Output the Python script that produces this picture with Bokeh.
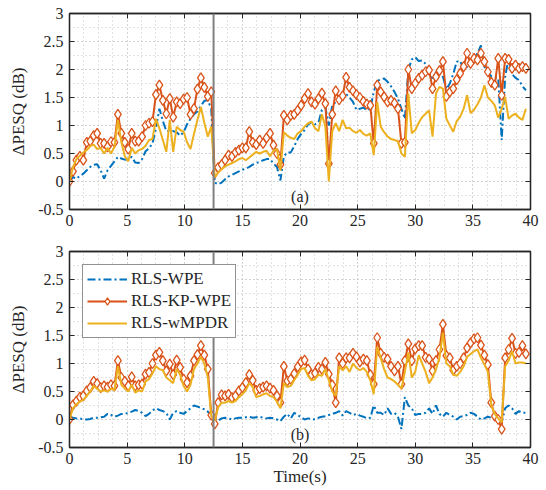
import numpy as np
from bokeh.plotting import figure
from bokeh.models import (Range1d, SingleIntervalTicker, LinearAxis, Span,
                          CustomJSTickFormatter, Legend, LegendItem)
from bokeh.layouts import column
from bokeh.core.properties import value
from bokeh.embed import file_html
from bokeh.resources import INLINE

# ---------------- data ----------------
t = np.round(np.arange(133) * 0.3, 1)
change_time = 12.5

a_wpe = [0.0, 0.08, 0.05, 0.1, 0.14, 0.2, 0.26, 0.3, 0.31, 0.2,
         0.05, 0.2, 0.28, 0.36, 0.44, 0.41, 0.39, 0.4, 0.44, 0.34,
         0.33, 0.4, 0.54, 0.59, 0.68, 0.95, 1.3, 1.08, 0.9, 0.9,
         0.9, 0.88, 0.82, 0.88, 1.02, 1.12, 1.2, 1.25, 1.35, 1.44,
         1.45, 1.3, -0.02, -0.05, -0.02, 0.04, 0.09, 0.12, 0.15, 0.18,
         0.21, 0.23, 0.26, 0.3, 0.33, 0.35, 0.38, 0.4, 0.4, 0.32,
         0.26, 0.02, 0.45, 0.52, 0.52, 0.63, 0.76, 0.85, 0.92, 1.02,
         1.06, 1.02, 1.05, 1.28, 1.33, 1.0, 1.36, 1.42, 1.45, 1.53,
         1.56, 1.5, 1.42, 1.28, 1.3, 1.32, 1.27, 1.3, 1.6, 1.8,
         1.82, 1.84, 1.78, 1.7, 1.6, 1.48, 1.3, 1.12, 2.0, 2.18,
         2.22, 2.15, 2.16, 2.1, 1.95, 1.81, 1.95, 1.96, 1.87, 1.65,
         1.75, 1.92, 2.14, 2.15, 2.0, 2.05, 2.12, 2.2, 2.29, 2.43,
         2.05, 1.95, 1.88, 1.86, 1.85, 0.74, 1.87, 2.2, 1.92, 1.85,
         1.81, 1.7, 1.63]

a_kp = [0.0, 0.18, 0.38, 0.45, 0.38, 0.7, 0.72, 0.82, 0.86, 0.68,
        0.68, 0.62, 0.71, 0.7, 1.2, 0.86, 0.7, 0.58, 0.86, 0.72,
        0.72, 0.8, 1.0, 1.04, 1.07, 1.55, 1.72, 1.45, 1.21, 1.48,
        1.15, 1.42, 1.39, 1.47, 1.5, 1.2, 1.3, 1.65, 1.85, 1.68,
        1.52, 1.6, 0.15, 0.25, 0.3, 0.38, 0.47, 0.45, 0.52, 0.56,
        0.6, 0.6, 0.89, 0.7, 0.66, 0.74, 0.68, 0.78, 0.86, 0.65,
        0.5, 0.3, 1.18, 1.1, 1.18, 1.2, 1.27, 1.36, 1.48, 1.57,
        1.42, 1.38, 1.48, 1.58, 1.39, 0.32, 1.2, 1.62, 1.46, 1.53,
        1.86, 1.68, 1.62, 1.55, 1.5, 1.43, 1.38, 1.36, 0.68, 1.72,
        1.6, 1.51, 1.42, 1.45, 1.4, 1.3, 0.68, 0.7, 2.0, 1.66,
        1.75, 1.84, 1.9, 1.96, 1.99, 1.66, 1.87, 1.98, 2.14, 1.52,
        1.6, 1.66, 1.82, 1.93, 2.05, 2.29, 2.11, 2.2, 2.17, 2.29,
        2.14, 1.96, 1.77, 1.72, 2.2, 1.54, 2.2, 2.18, 2.02, 2.08,
        2.02, 2.05, 2.02]

a_mpdr = [0.0, 0.25, 0.4, 0.46, 0.52, 0.56, 0.63, 0.66, 0.58, 0.6,
          0.5, 0.6, 0.5, 0.62, 1.1, 0.7, 0.45, 0.36, 0.6, 0.5,
          0.56, 0.58, 0.64, 0.74, 0.76, 1.12, 0.95, 0.74, 0.53, 1.1,
          0.53, 0.98, 0.92, 0.89, 0.7, 0.58, 0.85, 1.1, 1.33, 1.05,
          0.8, 0.98, 0.08, 0.16, 0.22, 0.27, 0.3, 0.33, 0.36, 0.4,
          0.42, 0.38, 0.43, 0.48, 0.53, 0.5, 0.53, 0.55, 0.45, 0.55,
          0.58, 0.2, 0.88, 0.82, 0.78, 0.76, 0.86, 0.9, 0.98, 1.04,
          1.07, 0.95, 0.9, 1.2, 0.98, 0.0, 0.9, 1.04, 0.9, 1.1,
          0.95, 0.96, 0.9, 0.87, 0.92, 0.85, 0.82, 0.86, 0.47, 1.42,
          0.98, 0.88, 0.8, 0.76, 0.74, 0.72, 0.5, 0.44, 1.57, 0.86,
          0.92, 1.05, 1.15, 1.21, 1.27, 0.8, 1.57, 1.69, 1.66, 1.12,
          1.0, 0.89, 1.08, 1.16, 1.3, 1.54, 1.22, 1.28, 1.38, 1.5,
          1.72, 1.5, 1.44, 1.36, 1.14, 1.3, 1.51, 1.12, 1.18, 1.21,
          1.14, 1.1, 1.3]

b_wpe = [0.05, 0.03, 0.02, 0.02, 0.0, 0.0, 0.01, 0.03, 0.03, 0.04,
         0.05, 0.1, 0.08, 0.05, 0.07, 0.1, 0.1, 0.12, 0.14, 0.17,
         0.15, 0.12, 0.06, 0.1, 0.16, 0.2, 0.17, 0.15, 0.12, 0.0,
         0.12, 0.15, 0.12, 0.1, 0.15, 0.2, 0.25, 0.23, 0.21, 0.18,
         0.14, 0.08, 0.0, -0.02, 0.02, 0.03, 0.02, 0.0, 0.02, 0.03,
         0.03, 0.04, 0.05, 0.03, 0.04, 0.05, 0.03, 0.02, 0.03, 0.02,
         0.0, -0.03, 0.05, 0.1, 0.02, 0.12, 0.08, 0.04, 0.0, 0.02,
         0.01, 0.0, 0.03, 0.05, 0.06, 0.08, 0.1, 0.12, 0.15, 0.07,
         0.15, 0.12, 0.08, 0.1, 0.07, 0.05, 0.02, 0.03, 0.25, 0.12,
         0.12, 0.08, 0.2, 0.1, 0.12, 0.05, -0.17, 0.4, 0.25, 0.2,
         0.08, 0.1, 0.1, 0.12, 0.2, 0.1, 0.25, 0.1, 0.05, 0.12,
         0.08, 0.05, 0.0, 0.05, 0.06, 0.08, 0.12, 0.1, 0.05, 0.0,
         0.02, 0.05, 0.03, 0.0, -0.03, -0.05, 0.2, 0.25, 0.2, 0.1,
         0.15, 0.12, 0.12]

b_kp = [0.0, 0.26, 0.33, 0.4, 0.42, 0.51, 0.57, 0.68, 0.64, 0.57,
        0.6, 0.58, 0.62, 0.6, 1.05, 0.75, 0.68, 0.6, 0.76, 0.6,
        0.62, 0.63, 0.81, 0.84, 1.0, 1.15, 1.2, 1.05, 0.87, 0.99,
        0.8, 1.06, 0.93, 0.72, 0.66, 0.78, 1.05, 1.16, 1.32, 1.15,
        0.9, 0.08, -0.08, 0.3, 0.44, 0.42, 0.45, 0.39, 0.42, 0.51,
        0.57, 0.66, 0.8, 0.7, 0.52, 0.55, 0.58, 0.6, 0.56, 0.52,
        0.42, 0.3, 0.95, 0.69, 0.72, 0.82, 0.94, 1.03, 1.06, 0.9,
        0.8, 0.83, 0.93, 0.9, 1.02, 0.81, 0.62, 0.3, 1.1, 1.0,
        1.1, 1.1, 1.18, 1.12, 1.03, 1.08, 1.05, 0.8, 0.63, 1.46,
        1.18, 1.11, 1.08, 0.95, 0.87, 0.95, 0.63, 1.05, 1.35, 1.05,
        1.26, 1.32, 1.32, 1.11, 1.08, 0.87, 1.05, 1.25, 1.7, 1.14,
        1.1, 0.88, 0.95, 1.0, 1.1, 1.28, 1.37, 1.44, 1.46, 1.33,
        1.15, 0.98, 0.3, 0.06, 0.0, -0.17, 1.1, 1.25, 1.45, 1.18,
        1.2, 1.32, 1.17]

b_mpdr = [0.0, 0.2, 0.27, 0.32, 0.35, 0.42, 0.5, 0.6, 0.55, 0.5,
          0.52, 0.5, 0.55, 0.52, 0.95, 0.62, 0.55, 0.5, 0.62, 0.48,
          0.52, 0.5, 0.68, 0.72, 0.82, 0.95, 0.9, 0.88, 0.75, 0.7,
          0.65, 0.9, 0.8, 0.6, 0.5, 0.62, 0.9, 1.0, 1.12, 1.0,
          0.75, 0.06, -0.02, 0.22, 0.3, 0.3, 0.33, 0.3, 0.33, 0.4,
          0.45, 0.52, 0.65, 0.58, 0.4, 0.42, 0.45, 0.47, 0.42, 0.4,
          0.32, 0.2, 0.65, 0.58, 0.6, 0.7, 0.8, 0.9, 0.92, 0.78,
          0.7, 0.72, 0.8, 0.78, 0.9, 0.7, 0.5, 0.42, 0.95, 0.88,
          0.95, 0.85, 1.0, 0.92, 0.88, 0.92, 0.85, 0.7, 0.45, 1.3,
          1.1, 0.9, 0.75, 0.72, 0.68, 0.62, 0.55, 0.85, 1.2, 0.75,
          0.85, 1.15, 1.0, 0.85, 0.65, 0.75, 0.9, 1.1, 1.55, 1.0,
          0.95, 0.8, 0.78, 0.85, 0.95, 1.12, 1.17, 1.22, 1.25, 1.1,
          0.98, 0.85, 0.25, 0.1, 0.02, -0.05, 0.95, 1.05, 1.22, 1.0,
          1.02, 1.02, 1.0]

labels = ["RLS-WPE", "RLS-KP-WPE", "RLS-wMPDR"]

# ---------------- style ----------------
FONT = "Liberation Serif"
TXT = "#262626"
BLUE, ORANGE, YELLOW = "#0072BD", "#D95319", "#EDB120"
GRID = "#c4c4c4"


def make_fig(height, top_b, bottom_b, xlabel, tag, wpe, kp, mpdr, legend):
    p = figure(width=546, height=height,
               x_range=Range1d(0, 40), y_range=Range1d(-0.5, 3),
               output_backend="svg", toolbar_location=None,
               min_border_left=69, min_border_right=16,
               min_border_top=top_b, min_border_bottom=bottom_b)
    p.outline_line_color = TXT
    p.outline_line_width = 1.3
    xt = SingleIntervalTicker(interval=5, num_minor_ticks=4)
    yt = SingleIntervalTicker(interval=0.5, num_minor_ticks=2)
    p.xaxis[0].ticker = xt
    p.yaxis[0].ticker = yt
    p.xgrid[0].ticker = xt
    p.ygrid[0].ticker = yt
    p.yaxis[0].formatter = CustomJSTickFormatter(code="return tick.toString();")
    for g in (p.xgrid[0], p.ygrid[0]):
        g.grid_line_color = GRID
        g.grid_line_dash = "1 3"
        g.grid_line_width = 1
        g.minor_grid_line_color = GRID
        g.minor_grid_line_dash = "1 3"
        g.minor_grid_line_width = 1
    for ax in (p.xaxis[0], p.yaxis[0]):
        ax.major_tick_in = 5
        ax.major_tick_out = 0
        ax.minor_tick_in = 0
        ax.minor_tick_out = 0
        ax.axis_line_color = TXT
        ax.axis_line_width = 1.3
        ax.major_tick_line_color = TXT
        ax.major_label_text_font = FONT
        ax.major_label_text_font_size = "16px"
        ax.major_label_text_color = TXT
        ax.axis_label_text_font = FONT
        ax.axis_label_text_font_size = "17px"
        ax.axis_label_text_font_style = "normal"
        ax.axis_label_text_color = TXT
    p.xaxis[0].major_label_standoff = 5
    p.yaxis[0].major_label_standoff = 6
    p.yaxis[0].axis_label = "\u0394PESQ (dB)"
    p.yaxis[0].axis_label_standoff = 7
    if xlabel:
        p.xaxis[0].axis_label = xlabel
        p.xaxis[0].axis_label_standoff = 0
    blank = CustomJSTickFormatter(code="return '';")
    for loc, tk in (("above", xt), ("right", yt)):
        ax = LinearAxis(ticker=tk, formatter=blank,
                        major_label_text_font_size="1px",
                        major_label_standoff=0, major_tick_in=5, major_tick_out=0,
                        minor_tick_in=0, minor_tick_out=0,
                        axis_line_color=TXT, axis_line_width=1.3,
                        major_tick_line_color=TXT)
        p.add_layout(ax, loc)

    r1 = p.line(t, wpe, line_color=BLUE, line_width=2, line_dash="8 3 2 3")
    r2 = p.line(t, kp, line_color=ORANGE, line_width=2)
    r3 = p.scatter(t, kp, marker="diamond", size=10,
                   fill_color="white", line_color=ORANGE, line_width=1.3)
    r4 = p.line(t, mpdr, line_color=YELLOW, line_width=2)

    p.add_layout(Span(location=change_time, dimension="height",
                      line_color="#808080", line_width=2))

    p.text(x=[20], y=[-0.26], text=[tag], text_font=value(FONT),
           text_font_size="16px", text_align="center",
           text_baseline="middle", text_color=TXT)

    if legend:
        lg = Legend(items=[LegendItem(label=labels[0], renderers=[r1]),
                           LegendItem(label=labels[1], renderers=[r2, r3]),
                           LegendItem(label=labels[2], renderers=[r4])],
                    location="top_left")
        lg.margin = 13
        lg.padding = 4
        lg.spacing = 2
        lg.glyph_width = 40
        lg.glyph_height = 18
        lg.label_height = 18
        lg.label_standoff = 4
        lg.label_text_font = FONT
        lg.label_text_font_size = "17px"
        lg.label_text_color = TXT
        lg.border_line_color = TXT
        lg.border_line_width = 1.3
        lg.background_fill_color = "white"
        lg.background_fill_alpha = 1
        p.add_layout(lg)
    return p


p1 = make_fig(239, 13, 30, None, "(a)", a_wpe, a_kp, a_mpdr, False)
p2 = make_fig(251, 12, 43, "Time(s)", "(b)", b_wpe, b_kp, b_mpdr, True)

layout = column(p1, p2, spacing=0)
open("out.html", "w").write(file_html(layout, INLINE))
